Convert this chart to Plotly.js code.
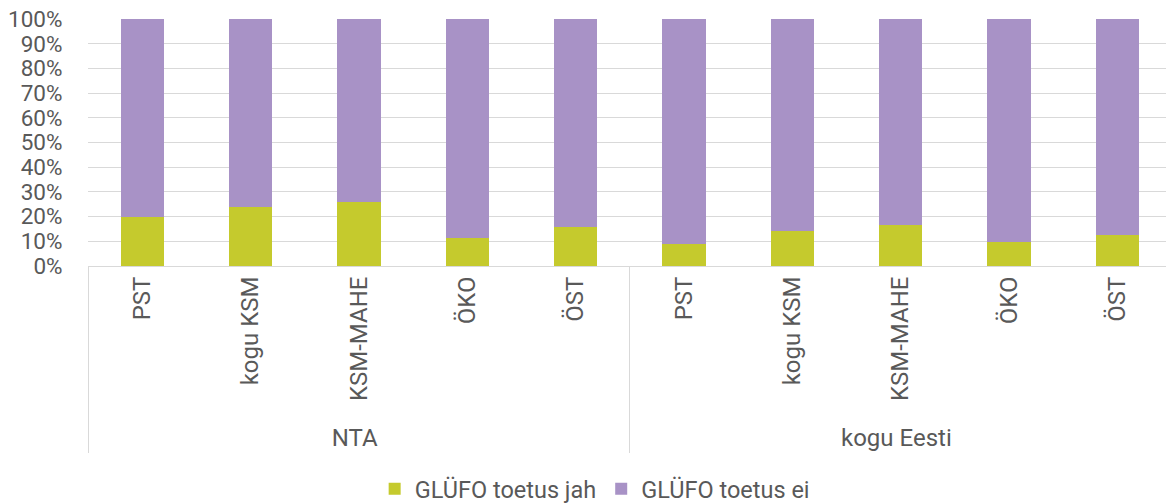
<!DOCTYPE html>
<html>
<head>
<meta charset="utf-8">
<script src="https://cdn.plot.ly/plotly-3.0.1.min.js"></script>
<style>html,body{margin:0;padding:0;background:#fff;}#chart{width:1166px;height:503px;}</style>
</head>
<body>
<div id="chart"></div>
<script>
const groups = ["NTA","NTA","NTA","NTA","NTA","kogu Eesti","kogu Eesti","kogu Eesti","kogu Eesti","kogu Eesti"];
const categories = ["PST","kogu KSM","KSM-MAHE","ÖKO","ÖST","PST","kogu KSM","KSM-MAHE","ÖKO","ÖST"];
const toetusJah = [0.198, 0.240, 0.259, 0.114, 0.156, 0.088, 0.140, 0.167, 0.097, 0.124];
const toetusEi = [0.802, 0.760, 0.741, 0.886, 0.844, 0.912, 0.860, 0.833, 0.903, 0.876];
const seriesNames = ["GLÜFO toetus jah", "GLÜFO toetus ei"];

const textColor = '#595959';
const fam = 'Roboto, "Open Sans", sans-serif';

const traces = [
  {type: 'bar', name: seriesNames[0], x: [groups, categories], y: toetusJah,
   marker: {color: '#c5ca2d', line: {width: 0}}, hoverinfo: 'y'},
  {type: 'bar', name: seriesNames[1], x: [groups, categories], y: toetusEi,
   marker: {color: '#a892c6', line: {width: 0}}, hoverinfo: 'y'}
];

const layout = {
  width: 1166, height: 503,
  margin: {l: 88, r: 0, t: 19, b: 237},
  barmode: 'stack',
  bargap: 0.6,
  paper_bgcolor: '#ffffff', plot_bgcolor: '#ffffff',
  font: {family: fam, size: 23, color: textColor},
  showlegend: true,
  legend: {orientation: 'h', xref: 'container', yref: 'container', x: 0.51, xanchor: 'center', y: 0.028, yanchor: 'middle',
           font: {family: fam, size: 23.5, color: textColor}, itemclick: false, traceorder: 'normal'},
  xaxis: {
    type: 'multicategory',
    range: [-0.5, 9.45],
    tickangle: -90,
    showline: true, linecolor: '#d9d9d9', linewidth: 1,
    showgrid: false,
    ticks: '',
    showdividers: true, dividercolor: '#d9d9d9', dividerwidth: 1,
    tickfont: {family: fam, size: 24, color: textColor},
    fixedrange: true
  },
  yaxis: {
    range: [0, 1],
    dtick: 0.1, tick0: 0,
    tickformat: '.0%',
    showgrid: true, gridcolor: '#d9d9d9', gridwidth: 1,
    zeroline: false,
    showline: false,
    ticks: 'outside', ticklen: 20, tickcolor: 'rgba(0,0,0,0)',
    tickfont: {family: fam, size: 22.5, color: textColor},
    fixedrange: true
  }
};

Plotly.newPlot('chart', traces, layout, {displayModeBar: false, staticPlot: true});
</script>
</body>
</html>
